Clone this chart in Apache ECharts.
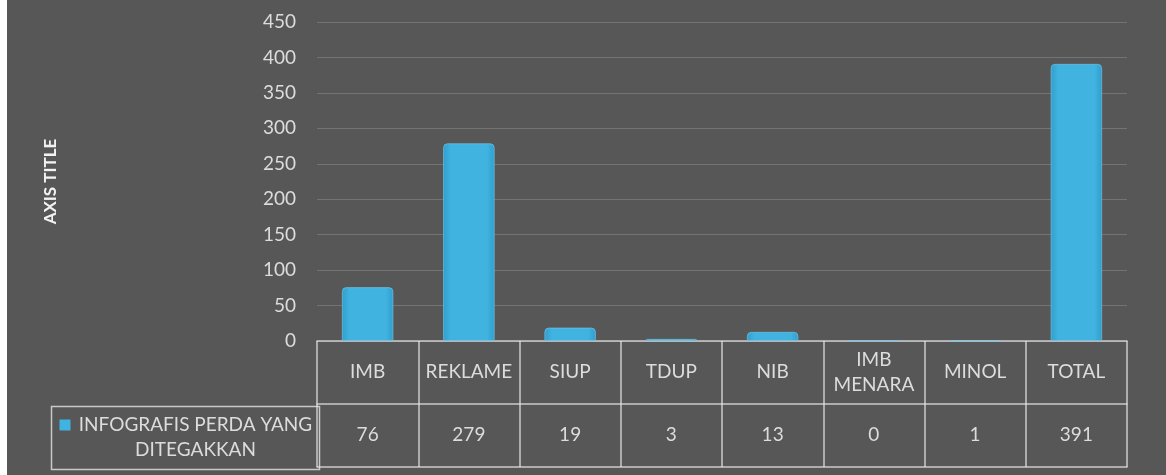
<!DOCTYPE html>
<html>
<head>
<meta charset="utf-8">
<script src="https://cdn.jsdelivr.net/npm/echarts@6/dist/echarts.min.js"></script>
<style>
	html, body { margin: 0; padding: 0; background: #fff; }
	#chart { position: absolute; left: 7px; top: 0; width: 1159px; height: 475px; background: #575757; }
</style>
</head>
<body>
<div id="chart"></div>
<script>
// Data
var categories = ['IMB', 'REKLAME', 'SIUP', 'TDUP', 'NIB', 'IMB\nMENARA', 'MINOL', 'TOTAL'];
var values = [76, 279, 19, 3, 13, 0, 1, 391];
var seriesName = 'INFOGRAFIS PERDA YANG DITEGAKKAN';
var yTicks = { min: 0, max: 450, step: 50 };

var textColor = '#dcdcdc';
var lineColor = 'rgba(230,230,230,0.8)';
var font = 'Lato, "Open Sans", sans-serif';

var chart = echarts.init(document.getElementById('chart'), '', { renderer: 'canvas' });

var barColor = new echarts.graphic.LinearGradient(0, 0, 1, 0, [
	{ offset: 0, color: '#2f9fcd' },
	{ offset: 0.15, color: '#41b3e0' },
	{ offset: 0.85, color: '#41b3e0' },
	{ offset: 1, color: '#2f9fcd' }
]);

chart.setOption({
	animation: false,
	grid: { left: 310, right: 39, top: 22, bottom: 134 },
	xAxis: [{
		type: 'category',
		data: categories,
		boundaryGap: true,
		axisLine: { lineStyle: { color: lineColor, width: 1.5 } },
		axisTick: { show: true, length: 63, lineStyle: { color: lineColor, width: 1.5 } },
		axisLabel: {
			color: textColor, fontFamily: font, fontSize: 19, margin: 31,
			verticalAlign: 'middle', lineHeight: 25, interval: 0
		}
	}, {
		type: 'category',
		data: values.map(String),
		position: 'bottom',
		offset: 63,
		boundaryGap: true,
		axisLine: { lineStyle: { color: lineColor, width: 1.5 } },
		axisTick: { show: true, length: 63, lineStyle: { color: lineColor, width: 1.5 } },
		axisLabel: {
			color: textColor, fontFamily: font, fontSize: 19, margin: 31,
			verticalAlign: 'middle', interval: 0
		}
	}, {
		type: 'category',
		data: categories,
		position: 'bottom',
		offset: 126,
		axisLine: { lineStyle: { color: lineColor, width: 1.5 } },
		axisTick: { show: false },
		axisLabel: { show: false }
	}],
	yAxis: {
		type: 'value',
		min: yTicks.min,
		max: yTicks.max,
		interval: yTicks.step,
		name: 'AXIS TITLE',
		nameLocation: 'middle',
		nameGap: 258,
		nameTextStyle: { color: '#f2f2f2', fontFamily: font, fontSize: 17, fontWeight: 'bold' },
		axisLine: { show: false },
		axisTick: { show: false },
		axisLabel: { color: textColor, fontFamily: font, fontSize: 19, margin: 21 },
		splitLine: { lineStyle: { color: 'rgba(255,255,255,0.17)', width: 1 } }
	},
	series: [{
		name: seriesName,
		type: 'bar',
		data: values,
		barWidth: '51%',
		itemStyle: {
			color: barColor,
			borderRadius: [4, 4, 0, 0],
			borderColor: 'rgba(120,200,235,0.6)',
			borderWidth: 1
		}
	}],
	graphic: [{
		type: 'group',
		left: 42,
		top: 404,
		children: [{
			type: 'rect',
			shape: { x: 0, y: 0, width: 268, height: 63 },
			style: { fill: 'none', stroke: lineColor, lineWidth: 1.5 }
		}, {
			type: 'rect',
			shape: { x: 8, y: 13, width: 11, height: 11 },
			style: { fill: '#41b3e0' }
		}, {
			type: 'text',
			style: {
				x: 144, y: 31,
				text: 'INFOGRAFIS PERDA YANG\nDITEGAKKAN',
				align: 'center', verticalAlign: 'middle',
				fill: textColor, font: '19px ' + font, lineHeight: 25
			}
		}]
	}]
});
</script>
</body>
</html>
